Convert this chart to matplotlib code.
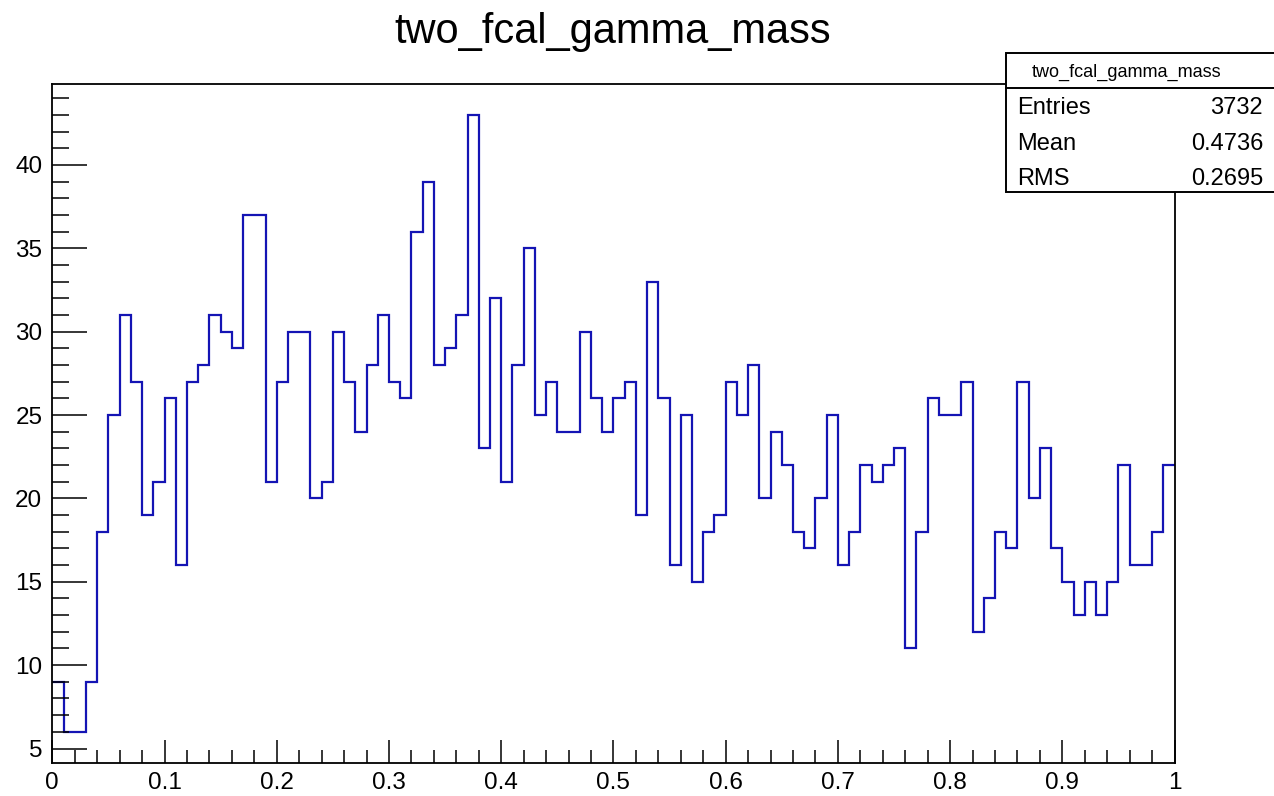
import numpy as np
import matplotlib
matplotlib.use("Agg")
import matplotlib.pyplot as plt
from matplotlib.patches import Rectangle
from matplotlib.lines import Line2D
from matplotlib.ticker import MultipleLocator, FuncFormatter

# ---- data ----
title = "two_fcal_gamma_mass"
x_min, x_max, n_bins = 0.0, 1.0, 100
counts = [9, 6, 6, 9, 18, 25, 31, 27, 19, 21,
          26, 16, 27, 28, 31, 30, 29, 37, 37, 21,
          27, 30, 30, 20, 21, 30, 27, 24, 28, 31,
          27, 26, 36, 39, 28, 29, 31, 43, 23, 32,
          21, 28, 35, 25, 27, 24, 24, 30, 26, 24,
          26, 27, 19, 33, 26, 16, 25, 15, 18, 19,
          27, 25, 28, 20, 24, 22, 18, 17, 20, 25,
          16, 18, 22, 21, 22, 23, 11, 18, 26, 25,
          25, 27, 12, 14, 18, 17, 27, 20, 23, 17,
          15, 13, 15, 13, 15, 22, 16, 16, 18, 22]
stat_labels = ["Entries", "Mean", "RMS"]
stat_values = ["3732", "0.4736", "0.2695"]

plt.rcParams['font.family'] = ['Liberation Sans', 'DejaVu Sans']

W, H = 1274, 796
fig = plt.figure(figsize=(W / 100, H / 100), dpi=100)

def fx(px):
    return px / W

def fy(py):
    return 1 - py / H

left, right, top, bottom = 52.3, 1174.5, 84.0, 762.7
ax = fig.add_axes([fx(left), fy(bottom), fx(right) - fx(left), fy(top) - fy(bottom)])

edges = np.linspace(x_min, x_max, n_bins + 1)
ax.stairs(counts, edges, baseline=None, color='#1414b4', linewidth=1.6)

ymax_c, ymin_c = max(counts), min(counts)
margin = 0.05 * (ymax_c - ymin_c)
ax.set_xlim(x_min, x_max)
ax.set_ylim(ymin_c - margin, ymax_c + margin)

for s in ax.spines.values():
    s.set_linewidth(1.3)
    s.set_color('black')

ax.xaxis.set_major_locator(MultipleLocator(0.1))
ax.xaxis.set_minor_locator(MultipleLocator(0.02))
ax.yaxis.set_major_locator(MultipleLocator(5))
ax.yaxis.set_minor_locator(MultipleLocator(1))
ax.xaxis.set_major_formatter(FuncFormatter(lambda v, p: f"{v:g}"))
ax.yaxis.set_major_formatter(FuncFormatter(lambda v, p: f"{v:g}"))

ax.tick_params(axis='both', which='both', direction='in', top=False, right=False,
               width=1.1, color='black')
ax.tick_params(axis='y', which='major', length=25, pad=7.2, labelsize=17.5)
ax.tick_params(axis='y', which='minor', length=12.2)
ax.tick_params(axis='x', which='major', length=16.5, pad=6.5, labelsize=17.5)
ax.tick_params(axis='x', which='minor', length=9.4)

# title
fig.text(fx(613), fy(43.3), title, ha='center', va='baseline', fontsize=30)

# stats box
bx0, bx1, by0, by1, bsep = 1006, 1290, 53.3, 191.7, 88.3
box = Rectangle((fx(bx0), fy(by1)), fx(bx1) - fx(bx0), fy(by0) - fy(by1),
                transform=fig.transFigure, facecolor='white', edgecolor='black',
                linewidth=1.4, zorder=10)
fig.patches.append(box)
fig.lines.append(Line2D([fx(bx0), fx(bx1)], [fy(bsep), fy(bsep)],
                        transform=fig.transFigure, color='black', linewidth=1.4, zorder=11))
fig.text(fx(1127), fy(77), title, ha='center', va='baseline', fontsize=13, zorder=12)
baselines = [114, 150, 185]
for lab, val, yb in zip(stat_labels, stat_values, baselines):
    fig.text(fx(1017), fy(yb), lab, ha='left', va='baseline', fontsize=17, zorder=12)
    fig.text(fx(1263), fy(yb), val, ha='right', va='baseline', fontsize=17, zorder=12)

fig.savefig("out.png", dpi=100, facecolor='white')
